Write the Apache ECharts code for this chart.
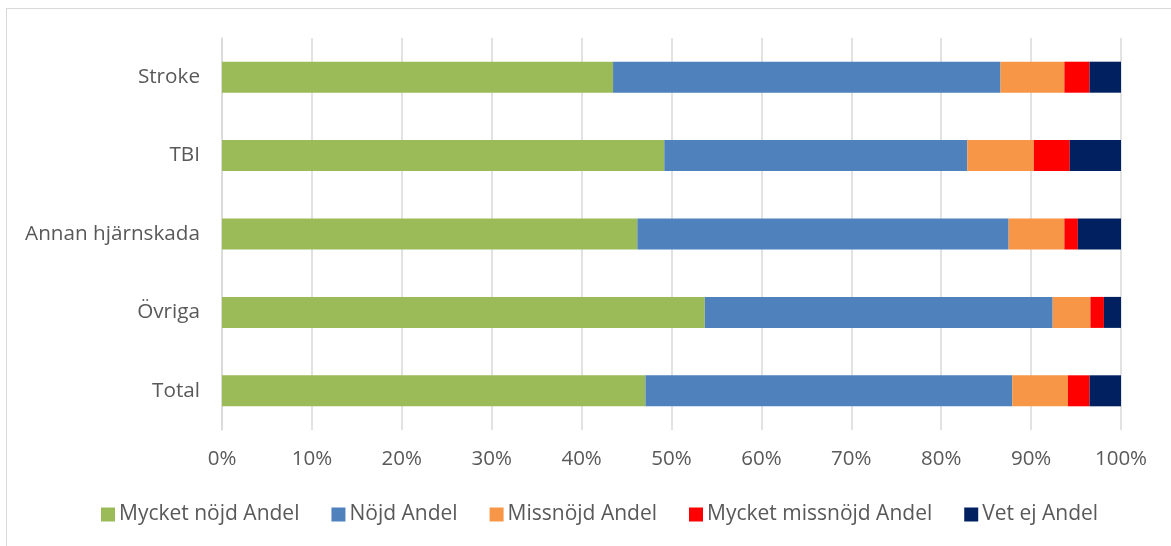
<!DOCTYPE html>
<html>
<head>
<meta charset="utf-8">
<script src="https://cdn.jsdelivr.net/npm/echarts@6/dist/echarts.min.js"></script>
<style>
  html, body { margin: 0; padding: 0; background: #fff; }
  #frame { position: absolute; left: 6px; top: 8px; width: 1200px; height: 600px; border: 1.5px solid #d9d9d9; box-sizing: border-box; }
  #chart { position: absolute; left: 0; top: 0; width: 1171px; height: 546px; }
</style>
</head>
<body>
<div id="frame"></div>
<div id="chart"></div>
<script>
// Satisfaction shares (%) per patient group
const categories = ['Stroke', 'TBI', 'Annan hjärnskada', 'Övriga', 'Total'];
const seriesNames = ['Mycket nöjd Andel', 'Nöjd Andel', 'Missnöjd Andel', 'Mycket missnöjd Andel', 'Vet ej Andel'];
const mycketNojd     = [43.5, 49.2, 46.2, 53.7, 47.1];
const nojd           = [43.1, 33.7, 41.3, 38.7, 40.8];
const missnojd       = [7.1, 7.4, 6.2, 4.2, 6.2];
const mycketMissnojd = [2.8, 4.0, 1.5, 1.5, 2.4];
const vetEj          = [3.5, 5.7, 4.8, 1.9, 3.5];
const colors = ['#9BBB59', '#4F81BD', '#F79646', '#FF0000', '#002060'];

const values = [mycketNojd, nojd, missnojd, mycketMissnojd, vetEj];
const font = '"Open Sans", "Noto Sans", sans-serif';

const chart = echarts.init(document.getElementById('chart'));
chart.setOption({
  animation: false,
  textStyle: { fontFamily: font },
  grid: { left: 222, right: 50, top: 38, bottom: 116 },
  legend: {
    bottom: 16,
    left: 96,
    itemWidth: 14,
    itemHeight: 14,
    itemGap: 32,
    icon: 'rect',
    textStyle: { fontFamily: font, fontSize: 21, color: '#595959', padding: [0, 0, 0, -1] },
    data: seriesNames
  },
  xAxis: {
    type: 'value',
    min: 0,
    max: 100,
    interval: 10,
    axisLine: { show: false },
    axisTick: { show: false },
    splitLine: { lineStyle: { color: '#d9d9d9', width: 1.5 } },
    axisLabel: { formatter: '{value}%', fontFamily: font, fontSize: 20.5, color: '#595959', margin: 19 }
  },
  yAxis: {
    type: 'category',
    inverse: true,
    data: categories,
    axisLine: { show: true, lineStyle: { color: '#d9d9d9', width: 1.5 } },
    axisTick: { show: false },
    axisLabel: { fontFamily: font, fontSize: 20.7, color: '#595959', margin: 22 }
  },
  series: seriesNames.map((name, i) => ({
    name: name,
    type: 'bar',
    stack: 'total',
    barWidth: 31,
    itemStyle: { color: colors[i] },
    data: values[i]
  }))
});
</script>
</body>
</html>
